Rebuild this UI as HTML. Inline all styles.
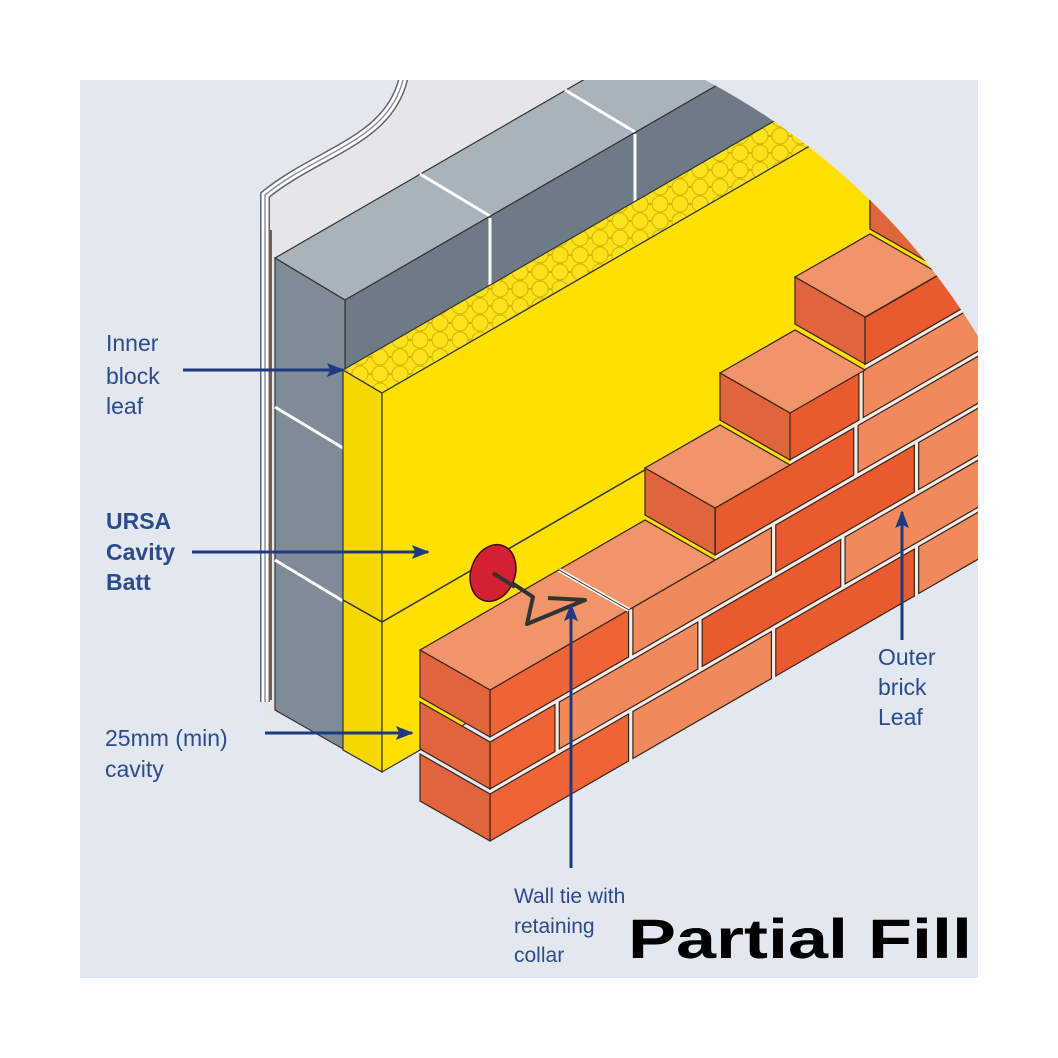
<!DOCTYPE html>
<html><head><meta charset="utf-8"><style>
html,body{margin:0;padding:0;background:#fff}
svg{display:block}
text{font-family:"Liberation Sans",sans-serif}
</style></head><body>
<svg width="1058" height="1058" viewBox="0 0 1058 1058" xmlns="http://www.w3.org/2000/svg">
<defs>
<clipPath id="cc"><circle cx="380" cy="700" r="700"/></clipPath>
<clipPath id="pc"><rect x="80" y="80" width="898" height="898"/></clipPath>
<pattern id="hex" width="20" height="17" patternUnits="userSpaceOnUse">
<rect width="20" height="17" fill="#f6d900"/>
<circle cx="10" cy="8.5" r="8" fill="#fbe21a" stroke="#d8b400" stroke-width="1"/>
<circle cx="0" cy="0" r="8" fill="#fbe21a" stroke="#d8b400" stroke-width="1"/>
<circle cx="20" cy="0" r="8" fill="#fbe21a" stroke="#d8b400" stroke-width="1"/>
<circle cx="0" cy="17" r="8" fill="#fbe21a" stroke="#d8b400" stroke-width="1"/>
<circle cx="20" cy="17" r="8" fill="#fbe21a" stroke="#d8b400" stroke-width="1"/>
</pattern>
<marker id="ar" viewBox="0 0 10 10" refX="9" refY="5" markerWidth="18" markerHeight="14" orient="auto" markerUnits="userSpaceOnUse" preserveAspectRatio="none"><path d="M0,0 L10,5 L0,10 L2,5 Z" fill="#1d3a80"/></marker>
</defs>
<rect x="80" y="80" width="898" height="898" fill="#e3e7ef"/>
<g clip-path="url(#pc)"><g clip-path="url(#cc)">
<path d="M262,720 L262,195 C320,150 395,140 405,80 L1000,80 L1000,400 Z" fill="#e6e6e8"/>
<polygon points="275,258 345,300 1211,-200 1141,-242" fill="#a9b3bb" stroke="#333" stroke-width="1.2"/>
<g stroke="#fff" stroke-width="3"><line x1="420" y1="174" x2="490" y2="216"/><line x1="565" y1="90" x2="635" y2="132"/><line x1="710" y1="6" x2="780" y2="48"/></g>
<polygon points="345,300 1211,-200 1211,-130 345,370" fill="#6e7b86" stroke="#333" stroke-width="1.2"/>
<g stroke="#fff" stroke-width="3"><line x1="490" y1="218" x2="490" y2="288"/><line x1="635" y1="134" x2="635" y2="204"/><line x1="780" y1="50" x2="780" y2="120"/></g>
<polygon points="275,258 345,300 345,750 275,710" fill="#7f8b96" stroke="#333" stroke-width="1.2"/>
<g stroke="#fff" stroke-width="3"><line x1="275" y1="407" x2="343" y2="448"/><line x1="275" y1="560" x2="343" y2="601"/></g>
<line x1="271" y1="230" x2="271" y2="700" stroke="#8a5a40" stroke-width="2"/>
<path d="M265,702 L265,195 C320,150 395,140 405,70" fill="none" stroke="#5d6670" stroke-width="10"/>
<path d="M265,702 L265,195 C320,150 395,140 405,70" fill="none" stroke="#fff" stroke-width="7"/>
<path d="M265,702 L265,195 C320,150 395,140 405,70" fill="none" stroke="#8c949c" stroke-width="1.5"/>
<polygon points="343,370 382,393 382,772 343,750" fill="#f5d800" stroke="#333" stroke-width="1.2"/>
<polygon points="343,370 382,393 1248,-107 1209,-130" fill="url(#hex)" stroke="#333" stroke-width="1.2"/>
<polygon points="382,393 1248,-107 1248,272 382,772" fill="#ffe000" stroke="#333" stroke-width="1.2"/>
<polyline points="343,600 382,622 700,438" fill="none" stroke="#333" stroke-width="1.5"/>
<g transform="matrix(0.866,-0.5,0,1,490,690)" stroke="#3a2418" stroke-width="1.2">
<path d="M0,151 L0,0 L260,0 L260,-52 L346,-52 L346,-104 L433,-104 L433,-156 L520,-156 L520,-208 L900,-208 L900,151 Z" fill="#f3ece8" stroke="none"/>
<g>
<rect x="0" y="0" width="160" height="47" fill="#ee6436" vector-effect="non-scaling-stroke"/>
<rect x="165" y="0" width="160" height="47" fill="#f08a5c" vector-effect="non-scaling-stroke"/>
<rect x="330" y="0" width="160" height="47" fill="#e95a2e" vector-effect="non-scaling-stroke"/>
<rect x="495" y="0" width="160" height="47" fill="#f08a5c" vector-effect="non-scaling-stroke"/>
<rect x="660" y="0" width="160" height="47" fill="#e95a2e" vector-effect="non-scaling-stroke"/>
<rect x="0" y="52" width="75" height="47" fill="#ee6436" vector-effect="non-scaling-stroke"/>
<rect x="80" y="52" width="160" height="47" fill="#f08a5c" vector-effect="non-scaling-stroke"/>
<rect x="245" y="52" width="160" height="47" fill="#e95a2e" vector-effect="non-scaling-stroke"/>
<rect x="410" y="52" width="160" height="47" fill="#f08a5c" vector-effect="non-scaling-stroke"/>
<rect x="575" y="52" width="160" height="47" fill="#e95a2e" vector-effect="non-scaling-stroke"/>
<rect x="740" y="52" width="160" height="47" fill="#f08a5c" vector-effect="non-scaling-stroke"/>
<rect x="0" y="104" width="160" height="47" fill="#ee6436" vector-effect="non-scaling-stroke"/>
<rect x="165" y="104" width="160" height="47" fill="#f08a5c" vector-effect="non-scaling-stroke"/>
<rect x="330" y="104" width="160" height="47" fill="#e95a2e" vector-effect="non-scaling-stroke"/>
<rect x="495" y="104" width="160" height="47" fill="#f08a5c" vector-effect="non-scaling-stroke"/>
<rect x="660" y="104" width="160" height="47" fill="#e95a2e" vector-effect="non-scaling-stroke"/>
<rect x="260" y="-52" width="160" height="47" fill="#e95a2e" vector-effect="non-scaling-stroke"/>
<rect x="425" y="-52" width="160" height="47" fill="#f08a5c" vector-effect="non-scaling-stroke"/>
<rect x="590" y="-52" width="160" height="47" fill="#e95a2e" vector-effect="non-scaling-stroke"/>
<rect x="755" y="-52" width="160" height="47" fill="#f08a5c" vector-effect="non-scaling-stroke"/>
<rect x="346" y="-104" width="80" height="47" fill="#e95a2e" vector-effect="non-scaling-stroke"/>
<rect x="431" y="-104" width="160" height="47" fill="#f08a5c" vector-effect="non-scaling-stroke"/>
<rect x="596" y="-104" width="160" height="47" fill="#e95a2e" vector-effect="non-scaling-stroke"/>
<rect x="761" y="-104" width="160" height="47" fill="#f08a5c" vector-effect="non-scaling-stroke"/>
<rect x="433" y="-156" width="160" height="47" fill="#e95a2e" vector-effect="non-scaling-stroke"/>
<rect x="598" y="-156" width="160" height="47" fill="#f08a5c" vector-effect="non-scaling-stroke"/>
<rect x="763" y="-156" width="160" height="47" fill="#e95a2e" vector-effect="non-scaling-stroke"/>
<rect x="520" y="-208" width="80" height="47" fill="#f08a5c" vector-effect="non-scaling-stroke"/>
<rect x="605" y="-208" width="160" height="47" fill="#e95a2e" vector-effect="non-scaling-stroke"/>
<rect x="770" y="-208" width="160" height="47" fill="#f08a5c" vector-effect="non-scaling-stroke"/>
</g></g>
<g stroke="#3a2418" stroke-width="1.2" fill="#f2946a">
<polygon points="490,690 715,560 645,520 420,650"/>
<polygon points="715,508 790,465 720,425 645,468"/>
<polygon points="790,413 865,370 795,330 720,373"/>
<polygon points="865,317 940,274 870,234 795,277"/>
<polygon points="940,222 1018,177 948,137 870,182"/>
</g>
<line x1="629" y1="610" x2="559" y2="570" stroke="#fff" stroke-width="4"/>
<line x1="629" y1="610" x2="559" y2="570" stroke="#3a2418" stroke-width="1"/>
<g stroke="#3a2418" stroke-width="1.2" fill="#e0643c">
<polygon points="490,690 490,737 420,697 420,650"/>
<polygon points="490,742 490,789 420,749 420,702"/>
<polygon points="490,794 490,841 420,801 420,754"/>
<polygon points="715,508 715,555 645,515 645,468"/>
<polygon points="790,413 790,460 720,420 720,373"/>
<polygon points="865,317 865,364 795,324 795,277"/>
<polygon points="940,222 940,269 870,229 870,182"/>
</g>
<path d="M497,573 L533,597 L527,624 L585,600 L548,598" fill="none" stroke="#333" stroke-width="4" stroke-linejoin="round"/>
<ellipse cx="493" cy="573" rx="22" ry="29" transform="rotate(20 493 573)" fill="#d42030" stroke="#3a1010" stroke-width="1.5"/>
<line x1="493" y1="573" x2="515" y2="587" stroke="#333" stroke-width="4"/>
</g></g>
<g stroke="#1d3a80" stroke-width="3" marker-end="url(#ar)">
<line x1="183" y1="370" x2="343" y2="370"/>
<line x1="192" y1="552" x2="428" y2="552"/>
<line x1="265" y1="733" x2="412" y2="733"/>
<line x1="571" y1="868" x2="571" y2="605"/>
<line x1="902" y1="640" x2="902" y2="512"/>
</g>
<g fill="#2b4b8c" font-size="23">
<text x="106" y="351">Inner</text>
<text x="106" y="384">block</text>
<text x="106" y="414">leaf</text>
<text x="106" y="529" font-weight="bold">URSA</text>
<text x="106" y="560" font-weight="bold">Cavity</text>
<text x="106" y="590" font-weight="bold">Batt</text>
<text x="105" y="746">25mm (min)</text>
<text x="105" y="777">cavity</text>
<text x="878" y="665">Outer</text>
<text x="878" y="695">brick</text>
<text x="878" y="725">Leaf</text>
<text x="514" y="903" font-size="21">Wall tie with</text>
<text x="514" y="933" font-size="21">retaining</text>
<text x="514" y="962" font-size="21">collar</text>
</g>
<text x="628" y="958" font-size="56" font-weight="bold" fill="#000" textLength="344" lengthAdjust="spacingAndGlyphs">Partial Fill</text>
</svg>
</body></html>
